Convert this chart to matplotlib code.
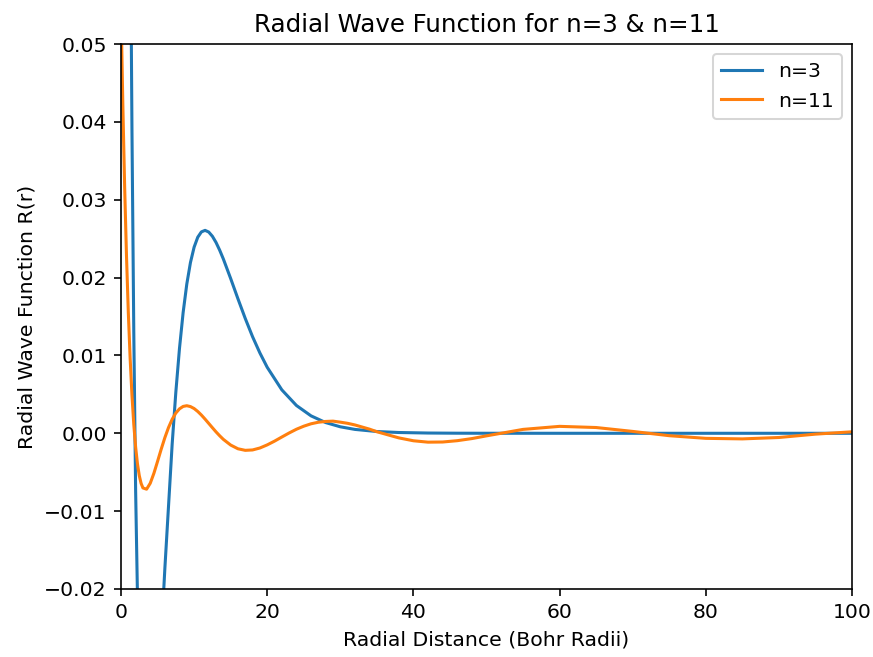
import matplotlib
matplotlib.use('Agg')
import matplotlib.pyplot as plt

# n=3: radial distance (Bohr radii) and radial wave function
r_n3 = [0, 0.25, 0.5, 1, 1.25, 1.5, 1.75, 2, 2.5, 3, 3.5, 4, 5, 5.5, 6, 7, 7.5,
        8, 8.5, 9, 9.5, 10, 10.5, 11, 11.5, 12, 12.5, 13, 13.5, 14, 15, 16, 17,
        18, 19, 20, 22, 24, 26, 28, 30, 32, 35, 38, 42, 46, 50, 60, 80, 100]
R_n3 = [0.3849, 0.2968, 0.2202, 0.1124, 0.07166, 0.0389, 0.01293, -0.00731,
        -0.03407, -0.0472, -0.05105, -0.04885, -0.0350, -0.02622, -0.01736,
        -0.00138, 0.005266, 0.01090, 0.015512, 0.01916, 0.021929, 0.02390,
        0.025183, 0.02587, 0.026064, 0.02585, 0.025307, 0.02451, 0.023517,
        0.02239, 0.019883, 0.01727, 0.014743, 0.01240, 0.010319, 0.00848,
        0.00558, 0.00357, 0.002237, 0.001375, 0.000833, 0.000498, 0.000226,
        0.0001004, 0.000033, 0.0000107, 0.0000034, 0, 0, 0]

# n=11
r_n11 = [0, 0.25, 0.5, 0.75, 1, 1.25, 1.5, 1.75, 2, 2.25, 2.5, 2.75, 3, 3.5, 4,
         4.5, 5, 5.5, 6, 6.5, 7, 7.5, 8, 8.5, 9, 9.5, 10, 10.5, 11, 11.5, 12,
         12.5, 13, 13.5, 14, 15, 16, 17, 18, 19, 20, 21, 22, 23, 24, 25, 26,
         27, 28, 29, 30, 31, 32, 34, 35, 38, 40, 42, 44, 46, 48, 50, 55, 60,
         65, 70, 75, 80, 85, 90, 95, 100]
R_n11 = [0.0548, 0.0422, 0.0316, 0.02282, 0.01555, 0.00963, 0.00488, 0.00113,
         -0.00176, -0.00391, -0.00544, -0.00644, -0.00702, -0.00718, -0.00642,
         -0.00514, -0.00361, -0.00204, -0.00056, 0.00074, 0.00180, 0.00260,
         0.00314, 0.00345, 0.00354, 0.00343, 0.00318, 0.00280, 0.00234,
         0.00182, 0.00127, 0.00072, 0.00018, -0.00032, -0.00078, -0.00151,
         -0.00199, -0.00219, -0.00214, -0.00189, -0.00149, -0.00101, -0.00048,
         0.00004, 0.00052, 0.00091, 0.00122, 0.00142, 0.00152, 0.00156,
         0.00143, 0.00128, 0.00107, 0.00053, 0.00020, -0.00059, -0.00096,
         -0.00114, -0.00112, -0.00095, -0.00068, -0.00033, 0.00050, 0.00089,
         0.00074, 0.00024, -0.00031, -0.00065, -0.00072, -0.00054, -0.00011,
         0.00019]

dpi = 147
fig = plt.figure(figsize=(873 / dpi, 657 / dpi), dpi=dpi)
ax = fig.add_axes([121 / 873, 1 - 589 / 657, 731 / 873, 545 / 657])

ax.plot(r_n3, R_n3, label='n=3')
ax.plot(r_n11, R_n11, label='n=11')

ax.set_xlim(0, 100)
ax.set_ylim(-0.02, 0.05)
ax.set_title('Radial Wave Function for n=3 & n=11')
ax.set_xlabel('Radial Distance (Bohr Radii)')
ax.set_ylabel('Radial Wave Function R(r)')
ax.legend(loc='upper right')

fig.savefig('out.png', dpi=dpi)
